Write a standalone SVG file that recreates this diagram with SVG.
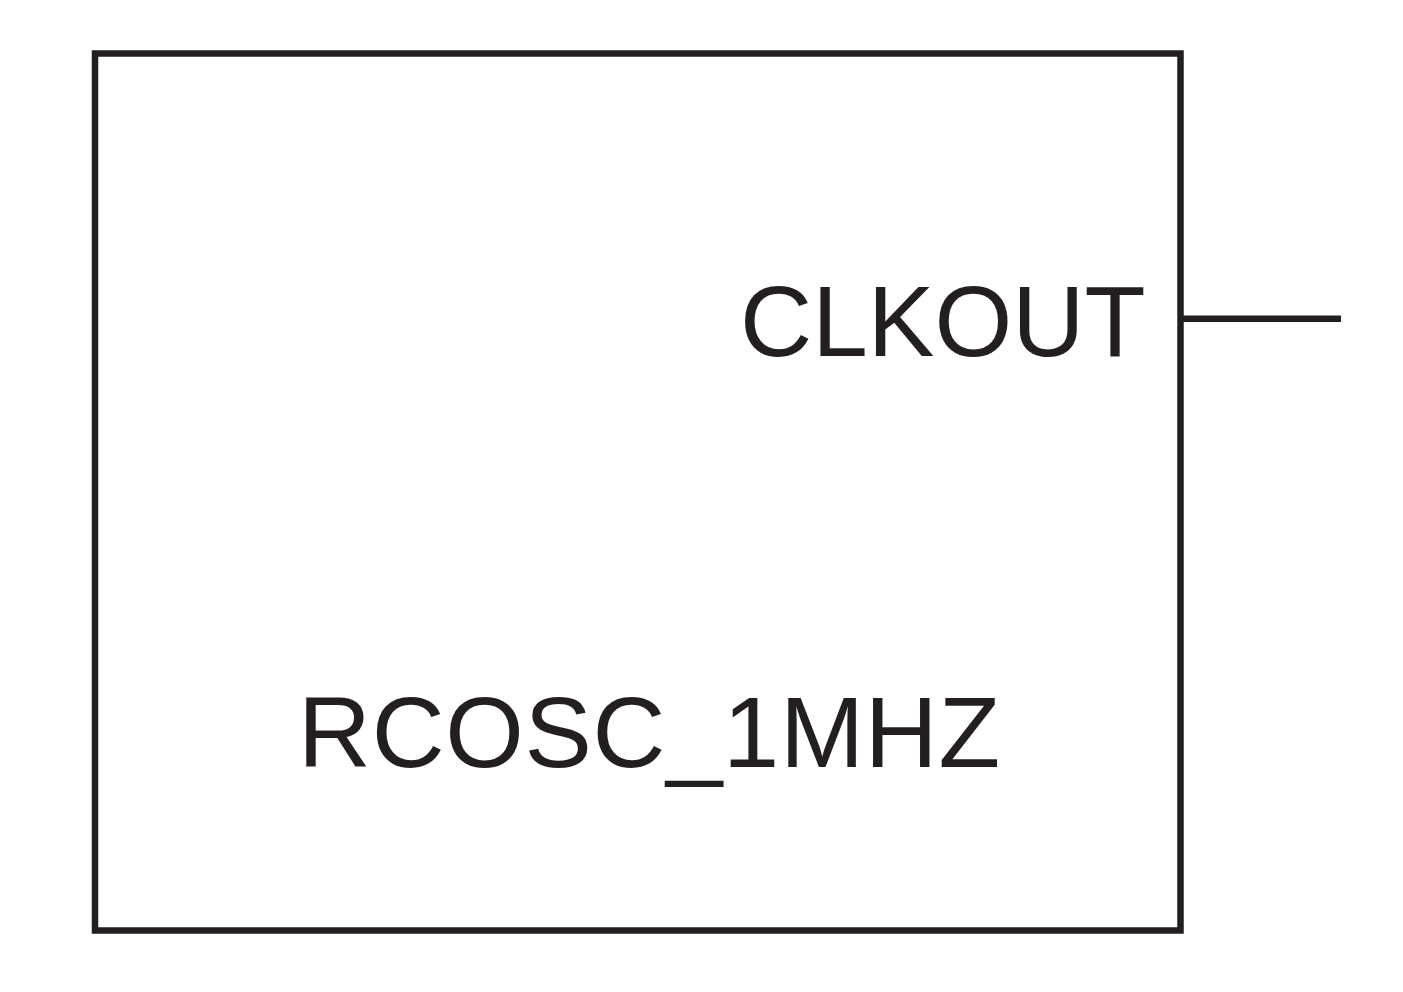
<svg xmlns="http://www.w3.org/2000/svg" width="1403" height="992" viewBox="0 0 1403 992">
<style>
.ln{fill:none;stroke:#231f20;stroke-width:6.5;stroke-linecap:square}
.t{font-family:"Liberation Sans",Arial,sans-serif;font-size:101px;fill:#231f20}
</style>
<rect width="1403" height="992" fill="#ffffff"/>
<g id="rcosc_1mhz">
<rect class="ln" x="95" y="53.5" width="1085.5" height="877"/>
<text class="t" x="298" y="767" letter-spacing="0.7">RCOSC_1MHZ</text>
<text class="t" x="740" y="356" style="font-size:100px">CLKOUT</text>
</g>
<g id="connectors">
<line class="ln" x1="1181" y1="318.7" x2="1341" y2="318.7" style="stroke-linecap:butt"/>
</g>
</svg>
